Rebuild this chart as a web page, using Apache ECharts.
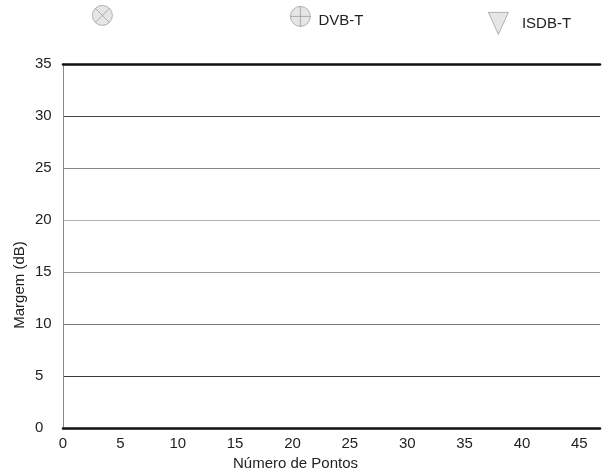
<!DOCTYPE html>
<html>
<head>
<meta charset="utf-8">
<script src="https://cdn.jsdelivr.net/npm/echarts@6/dist/echarts.min.js"></script>
<style>
html,body{margin:0;padding:0;background:#fff;}
#chart{width:603px;height:476px;}
</style>
</head>
<body>
<div id="chart"></div>
<script>
// Series names (legend) and their (empty) data, as shown in the reference
const seriesNames = [' ', 'DVB-T', 'ISDB-T'];
const seriesA = [];      // circle with X marker (unlabelled)
const seriesDVBT = [];   // circle with + marker
const seriesISDBT = [];  // down triangle marker
// Axis settings
const xTicks = [0, 5, 10, 15, 20, 25, 30, 35, 40, 45];
const yTicks = [0, 5, 10, 15, 20, 25, 30, 35];
const xTitle = 'Número de Pontos';
const yTitle = 'Margem (dB)';

const iconX = 'path://M10,0A10,10,0,1,1,10,20A10,10,0,1,1,10,0Z M2.93,2.93L17.07,17.07 M17.07,2.93L2.93,17.07';
const iconPlus = 'path://M10,0A10,10,0,1,1,10,20A10,10,0,1,1,10,0Z M10,0L10,20 M0,10L20,10';
const iconTri = 'path://M0,0L20,0L10,22Z';

const font = '"Liberation Sans", Arial, sans-serif';
const fs = 15;
const itemStyle = {color: '#e0e0e0', borderColor: '#8a8a8a', borderWidth: 0.8};

const chart = echarts.init(document.getElementById('chart'), null, {renderer: 'canvas'});
chart.setOption({
  animation: false,
  backgroundColor: '#fff',
  textStyle: {fontFamily: font},
  legend: [
    {data: [seriesNames[0]], left: 92, top: 5, padding: 0, itemWidth: 20, itemHeight: 20, icon: iconX,
     itemStyle: itemStyle,
     textStyle: {color: '#222', fontSize: fs, fontFamily: font}},
    {data: [seriesNames[1]], left: 290, top: 6, padding: 0, itemWidth: 20, itemHeight: 20, icon: iconPlus,
     itemStyle: itemStyle,
     formatter: '{t|{name}}',
     textStyle: {color: '#222', fontSize: fs, fontFamily: font,
       rich: {t: {color: '#222', fontSize: fs, fontFamily: font, padding: [9, 0, 0, 3]}}}},
    {data: [seriesNames[2]], left: 488, top: 12, padding: 0, itemWidth: 21, itemHeight: 22, icon: iconTri,
     itemStyle: itemStyle,
     textStyle: {color: '#222', fontSize: fs, fontFamily: font, padding: [0, 0, 0, 8]}}
  ],
  grid: {left: 63, right: 3, top: 64, bottom: 45, containLabel: false},
  xAxis: [{
    type: 'value', min: xTicks[0], max: 46.8, interval: 5,
    name: xTitle, nameLocation: 'middle', nameGap: 28, nameMoveOverlap: false,
    nameTextStyle: {color: '#222', fontSize: fs, fontFamily: font, padding: [0, 72, 0, 0]},
    axisLine: {show: true, onZero: false, lineStyle: {color: '#111', width: 2.5}},
    axisTick: {show: false},
    axisLabel: {color: '#222', fontSize: fs, margin: 8, showMaxLabel: false, fontFamily: font},
    splitLine: {show: false}
  }, {
    type: 'value', position: 'top', min: xTicks[0], max: 46.8,
    axisLine: {show: true, onZero: false, lineStyle: {color: '#111', width: 2.5}},
    axisTick: {show: false}, axisLabel: {show: false}, splitLine: {show: false}
  }],
  yAxis: {
    type: 'value', min: yTicks[0], max: yTicks[yTicks.length - 1], interval: 5,
    name: yTitle, nameLocation: 'middle', nameGap: 36, nameMoveOverlap: false,
    nameTextStyle: {color: '#222', fontSize: fs, fontFamily: font, padding: [0, 78, 0, 0]},
    axisLine: {show: true, lineStyle: {color: '#888', width: 1}},
    axisTick: {show: false},
    axisLabel: {color: '#222', fontSize: fs, margin: 28, align: 'left', fontFamily: font},
    splitLine: {show: true, lineStyle: {
      color: ['#111', '#3a3a3a', '#777', '#999', '#b0b0b0', '#888', '#444', '#111'], width: 1.2}}
  },
  series: [
    {name: seriesNames[0], type: 'scatter', symbol: iconX, symbolSize: 20, data: seriesA, itemStyle: itemStyle},
    {name: seriesNames[1], type: 'scatter', symbol: iconPlus, symbolSize: 20, data: seriesDVBT, itemStyle: itemStyle},
    {name: seriesNames[2], type: 'scatter', symbol: iconTri, symbolSize: 20, data: seriesISDBT, itemStyle: itemStyle}
  ]
});
</script>
</body>
</html>
